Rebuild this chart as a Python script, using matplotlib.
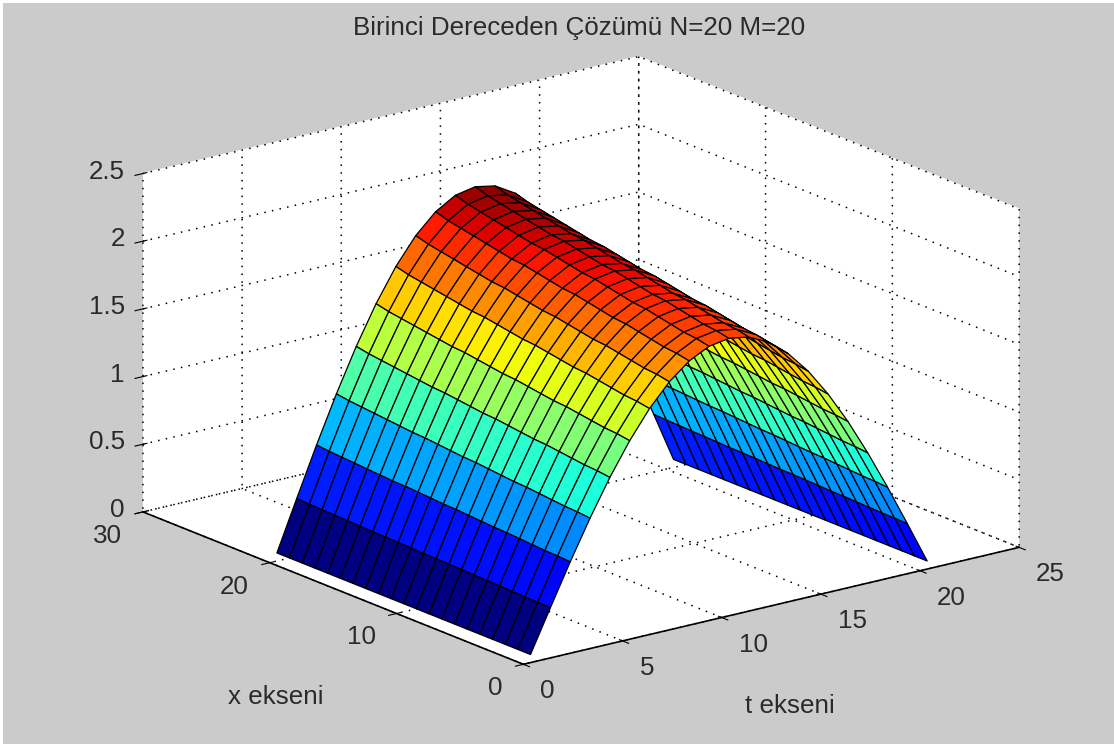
# -*- coding: utf-8 -*-
"""Birinci dereceden cozum yuzeyi, MATLAB surf gorunumu."""

import matplotlib

matplotlib.use("Agg")
import matplotlib.pyplot as plt
from matplotlib.patches import Rectangle
from mpl_toolkits.mplot3d import proj3d
import numpy as np

W, H = 1114, 744
GRAY = "#cbcbcb"
TEXT_COLOR = "#2a2a2a"
FONT_SIZE = 18.7

T_VALUES = list(range(1, 22))
X_VALUES = list(range(1, 22))
# tepe yuksekligi (x = 1..21) ve t boyunca kemer seklinin resimden okunan degerleri
RIDGE = [1.99, 2.01, 2.02, 2.04, 2.06, 2.08, 2.09, 2.11, 2.13, 2.15, 2.16,
         2.18, 2.20, 2.22, 2.23, 2.25, 2.27, 2.29, 2.31, 2.33, 2.36]
ARCH = [0.0, 0.156, 0.309, 0.454, 0.588, 0.707, 0.809, 0.891, 0.951, 0.988, 1.0,
        0.988, 0.951, 0.891, 0.809, 0.707, 0.588, 0.454, 0.309, 0.156, 0.0]

T_TICKS = [0, 5, 10, 15, 20, 25]
X_TICKS = [0, 10, 20, 30]
Z_TICKS = [0, 0.5, 1, 1.5, 2, 2.5]
Z_TICK_LABELS = ["0", "0.5", "1", "1.5", "2", "2.5"]

plt.rcParams.update({
    "font.family": ["Liberation Sans", "DejaVu Sans"],
    "text.color": TEXT_COLOR,
    "grid.color": "black",
    "grid.linewidth": 1.1,
    "grid.linestyle": (0, (1.0, 4.1)),
})


def tick_label(ax, point, text, offset, ha):
    # mplot3d tick etiketleri tam yerine oturmuyor, elle yerlestir
    px, py, _ = proj3d.proj_transform(*point, ax.get_proj())
    ax.annotate(text, xy=(px, py), xytext=offset, textcoords="offset pixels",
                ha=ha, va="center", fontsize=FONT_SIZE, annotation_clip=False)


fig = plt.figure(figsize=(W / 100, H / 100), dpi=100, facecolor="white")
fig.add_artist(Rectangle((3 / W, 0), 1, 1 - 3 / H, transform=fig.transFigure,
                         facecolor=GRAY, edgecolor="none", zorder=-5))

ax = fig.add_axes([199 / W, 1.5 / H, 744 / W, 1.0],
                  projection="3d", proj_type="ortho", facecolor="none")
ax.set_box_aspect((1, 1, 0.569), zoom=1.243)
ax.view_init(elev=17.9, azim=-127.5)

t_grid, x_grid = np.meshgrid(T_VALUES, X_VALUES)
z_grid = np.outer(RIDGE, ARCH)
colors = plt.cm.jet(z_grid / z_grid.max())
ax.plot_surface(t_grid, x_grid, z_grid, facecolors=colors, rstride=1, cstride=1,
                shade=False, edgecolor="black", linewidth=0.9)

ax.set_xlim(0, 25, view_margin=0)
ax.set_ylim(0, 30, view_margin=0)
ax.set_zlim(0, 2.5, view_margin=0)
ax.set_xticks(T_TICKS)
ax.set_yticks(X_TICKS)
ax.set_zticks(Z_TICKS)
ax.set_xticklabels([])
ax.set_yticklabels([])
ax.set_zticklabels([])

for axis in (ax.xaxis, ax.yaxis, ax.zaxis):
    axis.set_pane_color("white")
    axis.pane.set_edgecolor("white")
    axis.line.set_color("black")
    axis.line.set_linewidth(1.2)
ax.zaxis.line.set_color("none")
ax.zaxis.set_ticks_position("upper")

for value in T_TICKS:
    tick_label(ax, (value, 0, 0), str(value), (17, -27), "left")
for value in X_TICKS:
    tick_label(ax, (0, value, 0), str(value), (-21, -24), "right")
for value, text in zip(Z_TICKS, Z_TICK_LABELS):
    tick_label(ax, (0, 30, value), text, (-18, 2), "right")

ax.text2D(790 / W, 1 - 706 / H, "t ekseni", transform=fig.transFigure,
          ha="center", va="center", fontsize=FONT_SIZE)
ax.text2D(276 / W, 1 - 697 / H, "x ekseni", transform=fig.transFigure,
          ha="center", va="center", fontsize=FONT_SIZE)
ax.text2D(579 / W, 1 - 28 / H, "Birinci Dereceden Çözümü N=20 M=20",
          transform=fig.transFigure, ha="center", va="center", fontsize=FONT_SIZE)

fig.savefig("out.png", dpi=100, facecolor=fig.get_facecolor())
